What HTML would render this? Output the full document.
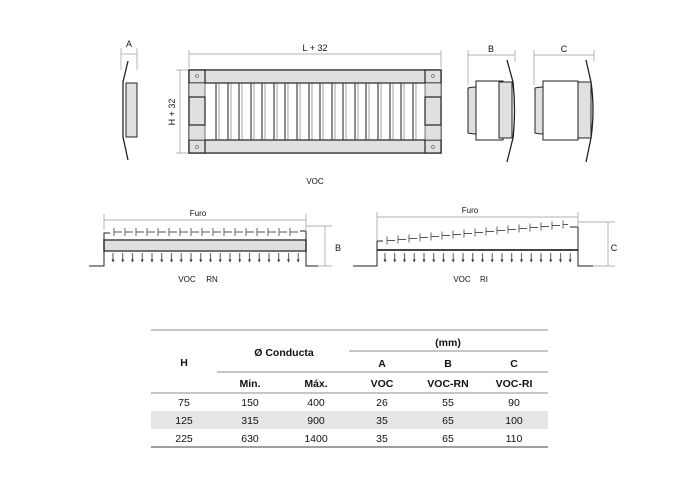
<!DOCTYPE html>
<html><head><meta charset="utf-8"><style>body{margin:0;background:#fff}svg{display:block}text{font-family:"Liberation Sans",sans-serif;fill:#111}</style></head><body>
<svg width="700" height="480" viewBox="0 0 700 480" xmlns="http://www.w3.org/2000/svg">
<defs>
<pattern id="arA" x="109" y="252" width="9.75" height="11" patternUnits="userSpaceOnUse"><line x1="4" y1="1" x2="4" y2="9" stroke="#444" stroke-width="0.9"/><path d="M2.5 7.5L4 10.5L5.5 7.5Z" fill="#333"/></pattern>
<pattern id="arB" x="381" y="252" width="9.75" height="11" patternUnits="userSpaceOnUse"><line x1="4" y1="1" x2="4" y2="9" stroke="#444" stroke-width="0.9"/><path d="M2.5 7.5L4 10.5L5.5 7.5Z" fill="#333"/></pattern>
</defs>
<g stroke="#999" stroke-width="0.7" fill="none">
<line x1="121" y1="54" x2="137" y2="54"/><line x1="121" y1="48" x2="121" y2="70"/><line x1="137" y1="48" x2="137" y2="70"/>
<line x1="189" y1="54" x2="441" y2="54"/><line x1="189" y1="50" x2="189" y2="68"/><line x1="441" y1="50" x2="441" y2="68"/>
<line x1="180" y1="70" x2="180" y2="153"/><line x1="176" y1="70" x2="189" y2="70"/><line x1="176" y1="153" x2="189" y2="153"/>
<line x1="468" y1="55" x2="515" y2="55"/><line x1="468" y1="50" x2="468" y2="85"/><line x1="515" y1="50" x2="515" y2="62"/>
<line x1="534" y1="55" x2="594" y2="55"/><line x1="534" y1="50" x2="534" y2="85"/><line x1="594" y1="50" x2="594" y2="62"/>
<line x1="104" y1="220" x2="306" y2="220"/><line x1="104" y1="214" x2="104" y2="230"/><line x1="306" y1="214" x2="306" y2="230"/>
<line x1="306" y1="226" x2="332" y2="226"/><line x1="318" y1="266" x2="332" y2="266"/><line x1="325" y1="226" x2="325" y2="266"/>
<line x1="377" y1="217" x2="578" y2="217"/><line x1="377" y1="212" x2="377" y2="240"/><line x1="578" y1="212" x2="578" y2="226"/>
<line x1="578" y1="222" x2="615" y2="222"/><line x1="593" y1="266" x2="615" y2="266"/><line x1="608" y1="222" x2="608" y2="266"/>
</g>
<g font-size="9" text-anchor="middle">
<text x="129" y="47">A</text><text x="315" y="51">L + 32</text><text x="491" y="52">B</text><text x="564" y="52">C</text>
<text x="315" y="184" font-size="8">VOC</text>
<text transform="translate(175,112) rotate(-90)">H + 32</text>
<text x="198" y="216" font-size="8">Furo</text><text x="470" y="213" font-size="8">Furo</text>
<text x="338" y="251">B</text><text x="614" y="251">C</text>
<text x="187" y="282" font-size="8">VOC</text><text x="212" y="282" font-size="8">RN</text>
<text x="462" y="282" font-size="8">VOC</text><text x="484" y="282" font-size="8">RI</text>
</g>
<!-- side A -->
<rect x="126" y="83" width="11" height="54" fill="#e0e0e0" stroke="#222" stroke-width="1"/>
<path d="M128 61 L123 82 L123 137 L128 160" fill="none" stroke="#222" stroke-width="1.3"/>
<!-- front -->
<rect x="189" y="70" width="252" height="83" fill="#fff" stroke="#222" stroke-width="1.2"/>
<rect x="189" y="70" width="252" height="13" fill="#e0e0e0" stroke="#222" stroke-width="1.2"/>
<rect x="189" y="140" width="252" height="13" fill="#e0e0e0" stroke="#222" stroke-width="1.2"/>
<g fill="#e0e0e0" stroke="#222" stroke-width="1.2">
<rect x="189" y="70" width="16" height="13"/><rect x="425" y="70" width="16" height="13"/>
<rect x="189" y="140" width="16" height="13"/><rect x="425" y="140" width="16" height="13"/>
<rect x="189" y="83" width="16" height="57" stroke-width="0.6"/><rect x="425" y="83" width="16" height="57" stroke-width="0.6"/>
<rect x="189" y="97" width="16" height="28"/><rect x="425" y="97" width="16" height="28"/>
</g>
<g fill="none" stroke="#777" stroke-width="0.8"><circle cx="197" cy="76" r="1.5"/><circle cx="433" cy="76" r="1.5"/><circle cx="197" cy="147" r="1.5"/><circle cx="433" cy="147" r="1.5"/></g>
<g stroke="#444">
<path d="M216 83V140M228 83V140M239 83V140M251 83V140M262 83V140M274 83V140M285 83V140M297 83V140M309 83V140M320 83V140M332 83V140M343 83V140M355 83V140M366 83V140M378 83V140M390 83V140M401 83V140M413 83V140" stroke-width="1.2"/>
<path d="M219 83V140M231 83V140M242 83V140M254 83V140M265 83V140M277 83V140M288 83V140M300 83V140M312 83V140M323 83V140M335 83V140M346 83V140M358 83V140M369 83V140M381 83V140M393 83V140M404 83V140M416 83V140" stroke-width="0.5"/>
</g>
<!-- B -->
<path d="M468 88 Q476 86 485 88 V133 Q476 135 468 133Z" fill="#e0e0e0" stroke="#222"/>
<rect x="476" y="81" width="27" height="59" fill="#fff" stroke="#222"/>
<rect x="499" y="82" width="13" height="56" fill="#e0e0e0" stroke="#222"/>
<path d="M507 60 L513 82 Q516 110 513 138 L507 162" fill="none" stroke="#222" stroke-width="1.3"/>
<!-- C -->
<path d="M535 88 Q543 86 551 88 V133 Q543 135 535 133Z" fill="#e0e0e0" stroke="#222"/>
<rect x="543" y="81" width="35" height="59" fill="#fff" stroke="#222"/>
<rect x="578" y="82" width="13" height="56" fill="#e0e0e0" stroke="#222"/>
<path d="M586 60 L591 82 Q595 110 591 138 L586 162" fill="none" stroke="#222" stroke-width="1.3"/>
<!-- RN -->
<rect x="104" y="240" width="202" height="11" fill="#e0e0e0" stroke="#444" stroke-width="1.5"/>
<path d="M89 266H104V233H110M306 231H300M306 231V266H318" fill="none" stroke="#222" stroke-width="1"/>
<g stroke="#555" stroke-width="0.9" fill="none">
<path d="M114 232H122M114 228V236M125 232H133M125 228V236M136 232H144M136 228V236M147 232H155M147 228V236M158 232H166M158 228V236M169 232H177M169 228V236M180 232H188M180 228V236M191 232H199M191 228V236M202 232H210M202 228V236M213 232H221M213 228V236M224 232H232M224 228V236M235 232H243M235 228V236M246 232H254M246 228V236M257 232H265M257 228V236M268 232H276M268 228V236M279 232H287M279 228V236M290 232H298M290 228V236"/>
</g>
<rect x="109" y="252" width="195" height="11" fill="url(#arA)"/>
<!-- RI -->
<line x1="377" y1="250" x2="578" y2="250" stroke="#444" stroke-width="2"/>
<path d="M353 266H377V241H383M578 227H570M578 227V266H593" fill="none" stroke="#222" stroke-width="1"/>
<g stroke="#555" stroke-width="0.9" fill="none">
<path d="M387 240.5H395M387 236.5V244.5M398 239.5H406M398 235.5V243.5M409 238.5H417M409 234.5V242.5M420 237.5H428M420 233.5V241.5M431 236.5H439M431 232.5V240.5M442 235.5H450M442 231.5V239.5M453 234.5H461M453 230.5V238.5M464 233.5H472M464 229.5V237.5M475 232.5H483M475 228.5V236.5M486 231.5H494M486 227.5V235.5M497 230.5H505M497 226.5V234.5M508 229.5H516M508 225.5V233.5M519 228.5H527M519 224.5V232.5M530 227.5H538M530 223.5V231.5M541 226.5H549M541 222.5V230.5M552 225.5H560M552 221.5V229.5M563 224.5H568M563 220.5V228.5"/>
</g>
<rect x="381" y="252" width="195" height="11" fill="url(#arB)"/>
<!-- table -->
<rect x="151" y="411" width="397" height="18" fill="#e6e6e6"/>
<g stroke="#666" stroke-width="0.8">
<line x1="151" y1="330" x2="548" y2="330"/><line x1="349" y1="351" x2="548" y2="351"/>
<line x1="217" y1="372" x2="548" y2="372"/><line x1="151" y1="393" x2="548" y2="393"/>
<line x1="151" y1="447" x2="548" y2="447" stroke-width="1.2"/>
</g>
<g font-size="10.5" text-anchor="middle">
<g font-weight="bold"><text x="184" y="366">H</text><text x="284" y="356">Ø Conducta</text><text x="448" y="346">(mm)</text>
<text x="382" y="367">A</text><text x="448" y="367">B</text><text x="514" y="367">C</text>
<text x="250" y="387">Min.</text><text x="316" y="387">Máx.</text><text x="382" y="387">VOC</text><text x="448" y="387">VOC-RN</text><text x="514" y="387">VOC-RI</text></g>
<text x="184" y="406">75</text><text x="250" y="406">150</text><text x="316" y="406">400</text><text x="382" y="406">26</text><text x="448" y="406">55</text><text x="514" y="406">90</text>
<text x="184" y="424">125</text><text x="250" y="424">315</text><text x="316" y="424">900</text><text x="382" y="424">35</text><text x="448" y="424">65</text><text x="514" y="424">100</text>
<text x="184" y="442">225</text><text x="250" y="442">630</text><text x="316" y="442">1400</text><text x="382" y="442">35</text><text x="448" y="442">65</text><text x="514" y="442">110</text>
</g>
</svg>
</body></html>
